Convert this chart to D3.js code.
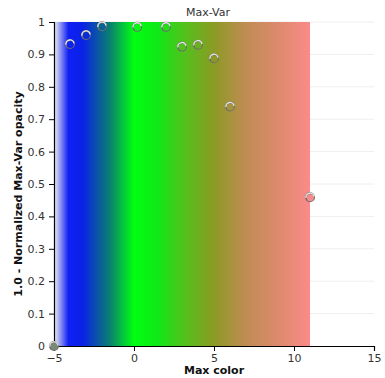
<!DOCTYPE html>
<html>
<head>
<meta charset="utf-8">
<script src="https://cdn.jsdelivr.net/npm/d3@7"></script>
<style>
  body { margin: 0; background: #fff; }
  text { font-family: "DejaVu Sans", sans-serif; }
</style>
</head>
<body>
<div id="rootDiv"></div>
<script>
// data
const maxColor = [-5, -4, -3, -2, 0.2, 2, 3, 4, 5, 6, 11]
const opacity = [0, 0.932, 0.96, 0.987, 0.985, 0.985, 0.924, 0.93, 0.888, 0.739, 0.459]
const xTicks = [-5, 0, 5, 10, 15]
const yTicks = [0, 0.1, 0.2, 0.3, 0.4, 0.5, 0.6, 0.7, 0.8, 0.9, 1]

// colour map stops (value, colour)
const stopValues = [-5, -4.1, -3.2, -1.5, 0, 1.5, 3, 5, 7, 9, 11]
const stopColors = ["#f2f2f2", "#1020f4", "#0a22e6", "#0a8070", "#00ff10", "#10e818", "#4ec41c", "#8c9a24", "#c08c54", "#dc8a6c", "#fb8a8a"]

const width = 385
const height = 378
const margin = { top: 22, right: 11, bottom: 32, left: 54 }

const svg = d3.select("#rootDiv").append("svg")
    .attr("width", width)
    .attr("height", height)

const x = d3.scaleLinear().domain([-5, 15]).range([margin.left, width - margin.right])
const y = d3.scaleLinear().domain([0, 1]).range([height - margin.bottom, margin.top])
const colorOf = d3.scaleLinear().domain(stopValues).range(stopColors).clamp(true)

// gradient band
const defs = svg.append("defs")
const grad = defs.append("linearGradient")
    .attr("id", "band")
    .attr("x1", "0%").attr("x2", "100%").attr("y1", "0%").attr("y2", "0%")
const lo = stopValues[0], hi = stopValues[stopValues.length - 1]
grad.selectAll("stop")
    .data(stopValues)
    .enter()
    .append("stop")
    .attr("offset", d => ((d - lo) / (hi - lo) * 100) + "%")
    .attr("stop-color", (_d, i) => stopColors[i])

// grid
svg.append("g")
    .selectAll("line")
    .data(yTicks.slice(1))
    .enter()
    .append("line")
    .attr("x1", x(-5)).attr("x2", x(15))
    .attr("y1", d => y(d)).attr("y2", d => y(d))
    .attr("stroke", "#eeeeee")

svg.append("rect")
    .attr("x", x(lo))
    .attr("y", y(1))
    .attr("width", x(hi) - x(lo))
    .attr("height", y(0) - y(1))
    .attr("fill", "url(#band)")

// axes
const xAxis = svg.append("g")
    .attr("transform", `translate(0,${y(0)})`)
    .call(d3.axisBottom(x).tickValues(xTicks).tickSize(5).tickFormat(d3.format("d")))
const yAxis = svg.append("g")
    .attr("transform", `translate(${x(-5)},0)`)
    .call(d3.axisLeft(y).tickValues(yTicks).tickSize(5).tickFormat(d => d === 0 || d === 1 ? String(d) : d.toFixed(1)))

for (const axis of [xAxis, yAxis]) {
    axis.select(".domain").attr("stroke", "#000").attr("stroke-width", 1.2)
    axis.selectAll("line").attr("stroke", "#000")
    axis.selectAll("text").attr("fill", "#333").style("font-size", "11px")
}
xAxis.selectAll("text").attr("dy", "0.7em")
yAxis.selectAll("text").attr("dx", "-1px")

// points: dark ring, coloured core, light highlight arc
const highlight = d3.arc().innerRadius(3.4).outerRadius(4.8).startAngle(-Math.PI * 0.55).endAngle(Math.PI * 0.45)
const pts = svg.append("g")
    .selectAll("g")
    .data(maxColor)
    .enter()
    .append("g")
    .attr("transform", (d, i) => `translate(${x(d)},${y(opacity[i])})`)
pts.append("circle")
    .attr("r", 5)
    .attr("fill", "#6e6e6e")
pts.append("circle")
    .attr("r", 3.5)
    .attr("cx", 0.3)
    .attr("cy", 0.5)
    .attr("fill", (d, i) => i === 0 ? "#7a8a78" : colorOf(d))
pts.append("path")
    .attr("d", highlight)
    .attr("fill", "#e6e6e6")

// titles
svg.append("text")
    .attr("x", x(5) - 6)
    .attr("y", 16)
    .attr("text-anchor", "middle")
    .attr("fill", "#333")
    .style("font-size", "11px")
    .text("Max-Var")

svg.append("text")
    .attr("x", x(5))
    .attr("y", height - 4)
    .attr("text-anchor", "middle")
    .attr("fill", "#111")
    .style("font-size", "11px")
    .style("font-weight", "bold")
    .text("Max color")

svg.append("text")
    .attr("transform", `translate(22,${(y(0) + y(1)) / 2 + 10}) rotate(-90)`)
    .attr("text-anchor", "middle")
    .attr("fill", "#111")
    .style("font-size", "11px")
    .style("font-weight", "bold")
    .text("1.0 - Normalized Max-Var opacity")
</script>
</body>
</html>
